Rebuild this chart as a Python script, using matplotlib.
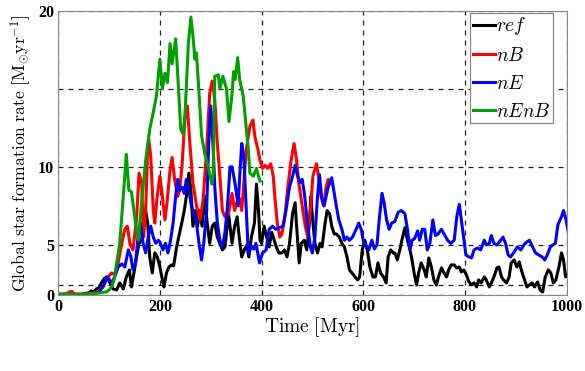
import numpy as np
import matplotlib
matplotlib.use('Agg')
import matplotlib.pyplot as plt

plt.rcParams['mathtext.fontset'] = 'cm'

# ---- data (time in Myr, SFR in Msun/yr) ----
t_ref = [0, 10, 20, 30, 40, 50, 60, 65, 70, 75, 80, 85, 90, 95, 100, 104, 108, 115, 121, 128,
         134, 140, 144, 149, 154, 159, 164, 168, 172, 176, 180, 185, 190, 195, 200, 205, 208, 213,
         218, 223, 227, 233, 237, 243, 248, 252, 257, 261, 265, 270, 274, 279, 283, 288, 293, 298,
         303, 308, 313, 318, 323, 328, 335, 342, 347, 352, 356, 361, 366, 371, 375, 380, 386, 390,
         394, 397, 400, 405, 410, 415, 420, 425, 429, 434, 440, 445, 450, 455, 461, 466, 469, 474,
         478, 484, 489, 494, 497, 500, 505, 510, 515, 519, 525, 529, 534, 538, 543, 547, 553, 558,
         563, 568, 573, 578, 584, 589, 593, 598, 603, 608, 613, 619, 624, 629, 634, 640, 645, 649,
         654, 659, 662, 667, 672, 676, 682, 687, 692, 696, 700, 705, 709, 714, 720, 724, 729, 734,
         739, 744, 748, 754, 759, 764, 768, 773, 779, 784, 789, 793, 798, 803, 808, 813, 818, 823,
         827, 832, 838, 842, 848, 852, 857, 863, 867, 872, 876, 882, 887, 891, 897, 902, 907, 911,
         916, 922, 927, 932, 937, 943, 948, 953, 958, 964, 969, 974, 979, 985, 990, 994, 998, 1003]
sfr_ref = [0.05, 0.05, 0.1, 0.05, 0.05, 0.1, 0.2, 0.4, 0.3, 0.6, 0.7, 1.2, 1.6, 1.8, 1.4, 1.0, 0.6,
           0.5, 1.2, 0.6, 1.8, 2.5, 0.8, 2.2, 3.8, 5.1, 5.3, 6.4, 7.2, 6.4, 3.8, 2.2, 4.2, 3.8, 2.8,
           1.5, 0.8, 2.2, 2.8, 3.0, 2.9, 4.8, 5.5, 6.4, 7.2, 8.1, 9.6, 8.5, 6.2, 7.2, 6.2, 7.2, 6.2,
           8.1, 6.4, 5.1, 6.2, 6.4, 5.5, 5.1, 4.5, 4.8, 7.0, 5.1, 6.2, 6.8, 5.5, 3.8, 4.5, 5.0, 3.8,
           5.5, 6.4, 8.9, 7.2, 5.3, 5.1, 6.2, 5.5, 4.8, 5.8, 5.3, 4.8, 4.2, 4.2, 4.5, 3.8, 5.1, 7.0,
           7.7, 6.2, 3.2, 5.1, 5.3, 4.5, 6.4, 8.1, 6.8, 5.1, 4.2, 5.1, 4.8, 6.4, 7.2, 7.0, 6.2, 5.7,
           5.7, 5.5, 5.1, 4.8, 3.8, 2.5, 2.2, 1.8, 1.5, 1.8, 4.5, 5.3, 4.5, 2.8, 1.8, 1.8, 3.2, 2.2,
           1.8, 1.2, 3.8, 4.5, 4.2, 4.2, 3.5, 4.5, 5.3, 6.1, 5.3, 4.5, 3.5, 2.2, 1.0, 2.2, 3.2, 2.5,
           1.8, 3.7, 2.8, 1.5, 1.0, 1.8, 2.7, 2.2, 1.8, 2.5, 3.0, 3.0, 2.7, 2.8, 2.3, 2.5, 2.0, 1.3,
           1.0, 1.2, 0.8, 1.5, 1.2, 1.8, 1.5, 0.8, 1.2, 1.8, 2.7, 2.8, 1.8, 1.5, 1.2, 1.8, 3.2, 3.5,
           2.8, 3.3, 2.5, 1.7, 0.8, 1.0, 1.2, 0.8, 1.3, 0.5, 0.3, 1.8, 2.5, 2.2, 1.2, 1.5, 2.8, 4.2,
           3.5, 1.8, 2.1]

t_nB = [0, 15, 22, 27, 32, 50, 60, 70, 80, 88, 92, 98, 105, 111, 118, 125, 131, 136, 141, 147,
        154, 159, 164, 168, 172, 176, 178, 182, 187, 190, 194, 200, 205, 210, 214, 220, 224, 229,
        235, 239, 244, 249, 254, 259, 265, 272, 279, 285, 292, 298, 303, 308, 313, 318, 323, 328,
        335, 342, 347, 352, 356, 361, 370, 377, 383, 387, 393, 397, 402, 407, 412, 418, 423, 426,
        431, 436, 440, 445, 451, 458, 464, 469, 473, 480, 486, 491, 496, 501, 508, 512, 517, 522,
        527, 531, 536]
sfr_nB = [0.05, 0.1, 0.3, 0.35, 0.1, 0.05, 0.1, 0.2, 0.4, 0.8, 1.2, 1.8, 2.2, 2.0, 3.2, 5.1, 6.0,
          6.2, 5.1, 4.5, 6.6, 9.6, 9.0, 5.5, 7.2, 11.1, 11.8, 10.7, 7.2, 6.4, 7.9, 9.4, 8.1, 6.6,
          7.7, 9.8, 10.6, 9.2, 8.1, 8.5, 10.3, 13.0, 13.9, 11.5, 9.0, 7.5, 6.6, 7.9, 11.1, 14.7,
          15.5, 14.3, 11.5, 9.4, 7.2, 6.8, 7.0, 8.3, 7.2, 7.8, 8.0, 7.2, 11.1, 12.6, 13.0, 11.9,
          11.1, 10.4, 9.9, 10.1, 9.9, 10.2, 9.4, 8.1, 6.4, 5.5, 5.7, 6.6, 8.5, 10.4, 11.5, 10.4,
          9.0, 7.5, 6.2, 5.5, 7.2, 9.4, 10.2, 9.4, 8.1, 7.5, 8.7, 9.2, 9.0]

t_nE = [0, 20, 40, 60, 70, 80, 88, 93, 97, 101, 105, 111, 118, 125, 131, 138, 143, 147, 152, 157,
        162, 167, 172, 177, 182, 187, 192, 197, 201, 206, 211, 216, 221, 226, 231, 235, 239, 244,
        248, 252, 257, 262, 267, 272, 277, 282, 286, 292, 296, 300, 305, 308, 313, 318, 323, 328,
        333, 338, 342, 348, 354, 357, 361, 365, 370, 374, 380, 385, 389, 396, 402, 409, 415, 422,
        428, 435, 442, 448, 455, 461, 466, 471, 476, 480, 485, 490, 496, 500, 505, 510, 514, 518,
        523, 527, 531, 538, 542, 547, 552, 558, 563, 568, 573, 579, 586, 591, 596, 600, 605, 611,
        617, 622, 627, 632, 637, 641, 646, 651, 656, 662, 669, 675, 682, 687, 692, 696, 701, 707,
        711, 716, 721, 726, 731, 737, 742, 747, 754, 759, 766, 772, 779, 784, 789, 793, 798, 802,
        808, 813, 818, 825, 831, 838, 842, 848, 852, 857, 863, 868, 875, 880, 885, 890, 897, 903,
        910, 916, 922, 927, 933, 939, 945, 952, 957, 962, 968, 973, 978, 983, 990, 994, 999, 1003]
sfr_nE = [0.05, 0.05, 0.05, 0.0, 0.1, 0.3, 0.8, 1.4, 1.8, 1.5, 1.2, 1.8, 2.8, 3.1, 2.8, 4.5, 3.8,
          2.5, 3.2, 5.5, 6.4, 5.1, 4.2, 5.5, 6.2, 5.5, 5.1, 5.3, 5.1, 4.5, 5.1, 4.2, 5.3, 6.4, 8.1,
          9.2, 8.5, 8.7, 8.3, 9.2, 8.5, 7.5, 7.0, 6.4, 5.1, 3.5, 5.0, 7.2, 11.5, 13.9, 11.1, 8.7,
          6.4, 5.3, 4.8, 5.8, 7.5, 10.0, 10.0, 8.9, 7.5, 9.4, 11.5, 10.7, 7.2, 4.1, 4.8, 4.6, 5.1,
          3.2, 4.2, 4.5, 6.0, 6.2, 6.0, 6.1, 6.2, 7.2, 8.7, 9.4, 10.1, 9.4, 9.0, 9.2, 8.1, 6.4, 4.8,
          4.2, 5.5, 8.1, 9.5, 8.1, 7.5, 8.1, 8.7, 9.3, 8.5, 7.5, 6.6, 6.0, 5.3, 5.5, 5.3, 5.5, 6.0,
          6.4, 6.0, 5.3, 4.8, 4.5, 5.3, 4.6, 5.0, 6.8, 8.3, 7.7, 6.6, 6.0, 6.4, 6.5, 7.1, 7.2, 7.0,
          6.0, 4.5, 5.3, 5.4, 5.9, 5.3, 6.0, 6.0, 4.5, 5.1, 6.6, 5.6, 5.7, 6.0, 5.7, 5.3, 5.1, 5.3,
          6.8, 7.6, 6.6, 5.3, 4.0, 3.8, 3.7, 4.5, 4.7, 4.5, 5.3, 5.0, 5.1, 5.6, 5.1, 5.0, 5.2, 5.5,
          5.1, 4.0, 3.8, 4.3, 4.8, 4.5, 5.0, 5.2, 5.3, 4.8, 4.2, 4.0, 3.8, 3.5, 4.0, 4.8, 5.0, 5.1,
          6.3, 6.8, 7.2, 6.6, 5.9]

t_nEnB = [0, 20, 40, 60, 80, 95, 100, 105, 110, 115, 121, 128, 134, 139, 144, 149, 154, 158, 164,
          172, 180, 187, 193, 200, 205, 210, 215, 220, 224, 231, 236, 241, 246, 250, 256, 261, 265,
          269, 272, 277, 282, 288, 295, 302, 305, 308, 315, 318, 324, 331, 336, 342, 345, 348, 353,
          357, 364, 369, 374, 377, 384, 390, 394, 397]
sfr_nEnB = [0.05, 0.1, 0.05, 0.1, 0.2, 0.3, 0.5, 0.8, 1.5, 3.2, 5.1, 8.1, 10.8, 8.5, 8.4, 7.2, 6.0,
            5.3, 7.7, 10.4, 12.4, 13.5, 14.5, 16.9, 15.0, 16.0, 15.4, 17.9, 16.6, 18.2, 15.4, 12.4,
            12.1, 13.7, 17.9, 19.6, 18.4, 16.9, 17.3, 14.7, 12.0, 10.9, 10.0, 8.9, 9.5, 15.8, 15.9,
            15.0, 15.8, 15.0, 12.9, 14.7, 16.1, 15.6, 17.0, 15.6, 14.5, 12.8, 11.1, 9.6, 9.4, 9.9,
            9.4, 9.1]

ytick_vals = [0, 1, 5, 10, 15, 20]
ytick_labels = ['0', '', '5', '10', '', '20']
xtick_vals = [0, 200, 400, 600, 800, 1000]


# y axis is stretched differently below and above 5
def fwd(v):
    v = np.asarray(v, dtype=float)
    return np.where(v < 5, v * 10.0, 50.0 + (v - 5) * 15.6)


def inv(d):
    d = np.asarray(d, dtype=float)
    return np.where(d < 50, d / 10.0, 5 + (d - 50) / 15.6)


fig = plt.figure(figsize=(5.85, 3.71), dpi=100)
ax = fig.add_axes([0.0995, 0.205, 0.869, 0.766])
ax.set_yscale('function', functions=(fwd, inv))

ax.plot(t_ref, sfr_ref, color='black', lw=2.2, label='$ref$')
ax.plot(t_nB, sfr_nB, color='#ff0000', lw=2.2, label='$nB$')
ax.plot(t_nE, sfr_nE, color='#0000ff', lw=2.2, label='$nE$')
ax.plot(t_nEnB, sfr_nEnB, color='#00a000', lw=2.2, label='$nEnB$')

ax.set_xlim(0, 1000)
ax.set_ylim(0, 20)
ax.set_yticks(ytick_vals)
ax.set_yticklabels(ytick_labels)
ax.set_xticks(xtick_vals)
ax.yaxis.set_minor_locator(matplotlib.ticker.NullLocator())
ax.tick_params(length=0, pad=3)
for lab in ax.get_xticklabels() + ax.get_yticklabels():
    lab.set_fontfamily('Liberation Serif')
    lab.set_fontweight('bold')
    lab.set_fontsize(11.5)

ax.grid(True, color='#222222', ls=(0, (4, 4)), lw=0.9)
for s in ax.spines.values():
    s.set_color('#888888')
    s.set_linewidth(0.8)

ax.set_xlabel(r'$\mathrm{Time\ [Myr]}$', fontsize=14, labelpad=0)
ax.set_ylabel(r'$\mathrm{Global\ star\ formation\ rate\ [M_{\odot}yr^{-1}]}$', fontsize=12.7, labelpad=3)

leg = ax.legend(loc='upper left', bbox_to_anchor=(0.811, 0.992), fontsize=14, fancybox=False,
                edgecolor='#888888', handlelength=1.15, handletextpad=0.05, labelspacing=0.45,
                borderpad=0.12, borderaxespad=0, framealpha=1)
leg.get_frame().set_linewidth(0.9)

plt.savefig('out.png', dpi=100)
